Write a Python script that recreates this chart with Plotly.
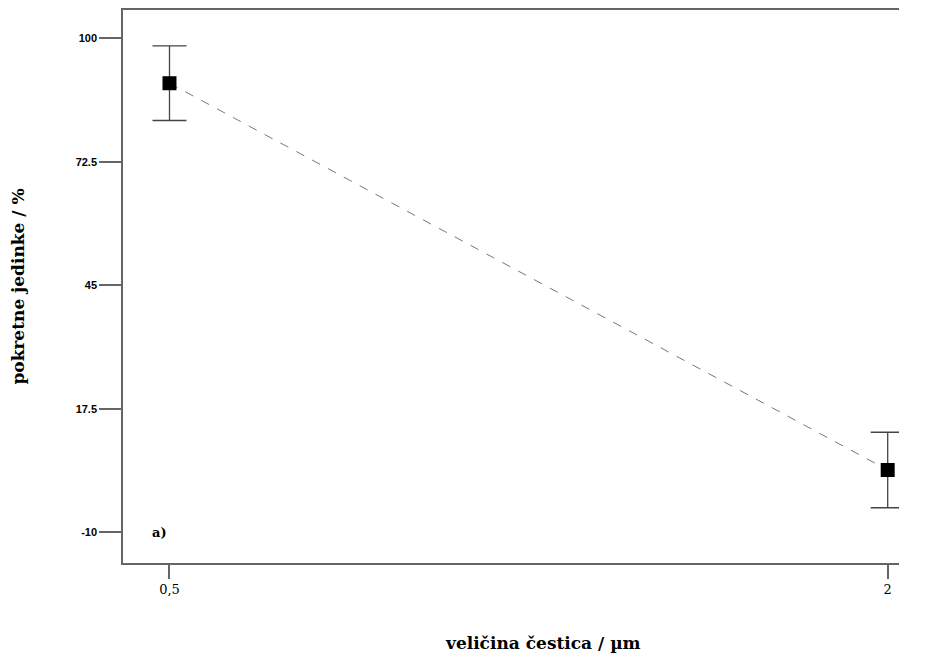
import plotly.graph_objects as go

x_vals = [0.5, 2]
y_vals = [90.0, 3.9]
err_vals = [8.3, 8.4]
y_ticks = [-10, 17.5, 45, 72.5, 100]
y_tick_text = ["-10", "17.5", "45", "72.5", "100"]
x_ticks = [0.5, 2]
x_tick_text = ["0,5", "2"]

SERIF = "DejaVu Serif"
SANS = "Liberation Sans"

fig = go.Figure()
fig.add_trace(go.Scatter(
    x=x_vals, y=y_vals, mode="lines",
    line=dict(color="#777777", width=1, dash="dash"),
    showlegend=False, hoverinfo="skip"))
fig.add_trace(go.Scatter(
    x=x_vals, y=y_vals, mode="markers",
    marker=dict(symbol="square", size=14, color="black"),
    error_y=dict(type="data", array=err_vals, visible=True,
                 color="#444444", thickness=1.3, width=17),
    showlegend=False))

fig.add_annotation(x=0.46, y=-10, xref="x", yref="y", text="<b>a)</b>",
                   showarrow=False, xanchor="left", yanchor="middle",
                   font=dict(family=SERIF, size=13, color="black"))

fig.add_annotation(x=0.541, y=0, xref="paper", yref="paper", yshift=-80,
                   text="<b>veličina čestica / µm</b>", showarrow=False,
                   xanchor="center", yanchor="middle",
                   font=dict(family=SERIF, size=17, color="black"))

fig.update_layout(
    width=911, height=645,
    margin=dict(l=115, r=20, t=2, b=90, autoexpand=False),
    paper_bgcolor="white", plot_bgcolor="white",
    xaxis=dict(range=[0.4029, 2.0236], tickvals=x_ticks, ticktext=x_tick_text,
               showgrid=False, zeroline=False, showline=True, mirror=True,
               linecolor="#666666", linewidth=1.5,
               ticks="outside", ticklen=14, tickcolor="#666666", tickwidth=1.5,
               tickfont=dict(family=SERIF, size=13, color="black")),
    yaxis=dict(range=[-16.8, 106.3], tickvals=y_ticks, ticktext=y_tick_text,
               showgrid=False, zeroline=False, showline=True, mirror=False,
               linecolor="#666666", linewidth=1.5,
               ticks="outside", ticklen=22, tickcolor="#666666", tickwidth=1.5,
               tickfont=dict(family=SANS, size=11, color="black", weight="bold"),
               title=dict(text="<b>pokretne jedinke / %</b>", standoff=50,
                          font=dict(family=SERIF, size=17, color="black"))),
)

fig.write_html("out.html")
